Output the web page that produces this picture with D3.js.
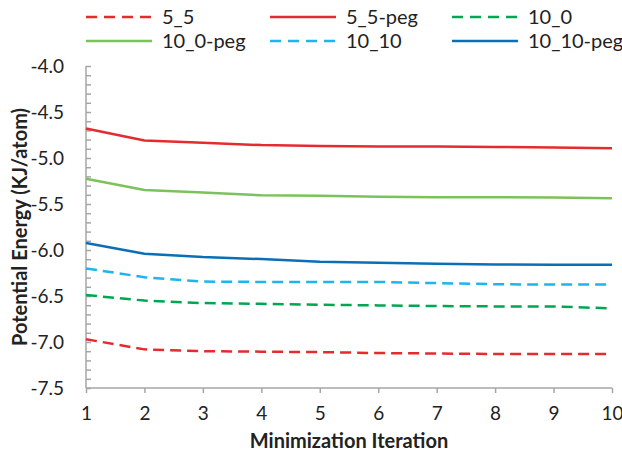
<!DOCTYPE html>
<html>
<head>
<meta charset="utf-8">
<script src="https://cdn.jsdelivr.net/npm/d3@7"></script>
<style>
body { margin: 0; background: #fff; }
text { font-family: Lato, "Open Sans", sans-serif; fill: #222; }
</style>
</head>
<body>
<svg width="622" height="451"></svg>
<script>
var iterations = [1, 2, 3, 4, 5, 6, 7, 8, 9, 10];
var yTicks = [-4.0, -4.5, -5.0, -5.5, -6.0, -6.5, -7.0, -7.5];

var seriesNames = ['5_5', '5_5-peg', '10_0', '10_0-peg', '10_10', '10_10-peg'];
var v5_5 = [-6.97, -7.08, -7.10, -7.105, -7.11, -7.12, -7.125, -7.13, -7.13, -7.13];
var v5_5peg = [-4.68, -4.81, -4.835, -4.86, -4.87, -4.876, -4.876, -4.88, -4.887, -4.894];
var v10_0 = [-6.49, -6.55, -6.577, -6.585, -6.595, -6.602, -6.609, -6.613, -6.613, -6.635];
var v10_0peg = [-5.226, -5.347, -5.376, -5.405, -5.41, -5.42, -5.427, -5.427, -5.43, -5.438];
var v10_10 = [-6.20, -6.296, -6.343, -6.347, -6.347, -6.347, -6.36, -6.372, -6.376, -6.376];
var v10_10peg = [-5.923, -6.04, -6.077, -6.099, -6.128, -6.139, -6.15, -6.157, -6.16, -6.16];

var colors = ['#e42b2f', '#e42b2f', '#00a651', '#7cc25a', '#1cb5ec', '#0b6fb8'];
var dashed = [true, false, true, false, true, false];
var allValues = [v5_5, v5_5peg, v10_0, v10_0peg, v10_10, v10_10peg];

var series = seriesNames.map(function (name, i) {
    return { name: name, values: allValues[i], color: colors[i], dash: dashed[i] };
});

var svg = d3.select('svg');
var mLeft = 86, mRight = 612, mTop = 66, mBottom = 388;

var x = d3.scaleLinear().domain([1, 10]).range([mLeft, mRight]);
var y = d3.scaleLinear().domain([-7.5, -4.0]).range([mBottom, mTop]);

// minor ticks on the y axis, every 0.1
var yAxis = d3.axisRight(y)
    .tickValues(d3.range(-75, -39).map(function (d) { return d / 10; }))
    .tickSize(5)
    .tickFormat('');
var gy = svg.append('g').attr('transform', 'translate(' + mLeft + ',0)').call(yAxis);
gy.selectAll('line, path').attr('stroke', '#a6a6a6').attr('stroke-width', 1.5);
gy.select('path').attr('d', 'M0,' + mTop + 'V' + mBottom);

svg.append('g').selectAll('text')
    .data(yTicks)
    .enter().append('text')
    .attr('x', mLeft - 22)
    .attr('y', function (d) { return y(d); })
    .attr('dy', '0.35em')
    .attr('text-anchor', 'end')
    .style('font-size', '19px')
    .text(function (d) { return d.toFixed(1); });

var xAxis = d3.axisBottom(x).tickValues(iterations).tickSize(5).tickPadding(14).tickFormat(d3.format('d'));
var gx = svg.append('g').attr('transform', 'translate(0,' + mBottom + ')').call(xAxis);
gx.selectAll('line, path').attr('stroke', '#a6a6a6').attr('stroke-width', 1.5);
gx.select('path').attr('d', 'M' + mLeft + ',0H' + mRight);
gx.selectAll('text').style('font-size', '19px').style('font-family', 'Lato, sans-serif').attr('fill', '#222');

var line = d3.line()
    .x(function (d, i) { return x(iterations[i]); })
    .y(function (d) { return y(d); });

svg.append('g').selectAll('path')
    .data(series)
    .enter().append('path')
    .attr('d', function (d) { return line(d.values); })
    .attr('fill', 'none')
    .attr('stroke', function (d) { return d.color; })
    .attr('stroke-width', 2.5)
    .attr('stroke-dasharray', function (d) { return d.dash ? '11,6' : null; });

// legend, 3 columns x 2 rows
var legendX = [86, 270, 452];
var legendY = [17, 41];
var lg = svg.append('g').selectAll('g')
    .data(series)
    .enter().append('g')
    .attr('transform', function (d, i) {
        return 'translate(' + legendX[i % 3] + ',' + legendY[Math.floor(i / 3)] + ')';
    });
lg.append('line')
    .attr('x1', 0).attr('x2', 66)
    .attr('stroke', function (d) { return d.color; })
    .attr('stroke-width', 2.5)
    .attr('stroke-dasharray', function (d) { return d.dash ? '11,7' : null; });
lg.append('text')
    .attr('x', 76)
    .attr('dy', '0.35em')
    .style('font-size', '20px')
    .text(function (d) { return d.name; });

svg.append('text')
    .attr('x', (mLeft + mRight) / 2)
    .attr('y', 448)
    .attr('text-anchor', 'middle')
    .style('font-size', '20px')
    .style('font-weight', 'bold')
    .text('Minimization Iteration');

svg.append('text')
    .attr('transform', 'translate(27,' + ((mTop + mBottom) / 2) + ') rotate(-90)')
    .attr('text-anchor', 'middle')
    .style('font-size', '20px')
    .style('font-weight', 'bold')
    .text('Potential Energy (KJ/atom)');
</script>
</body>
</html>
